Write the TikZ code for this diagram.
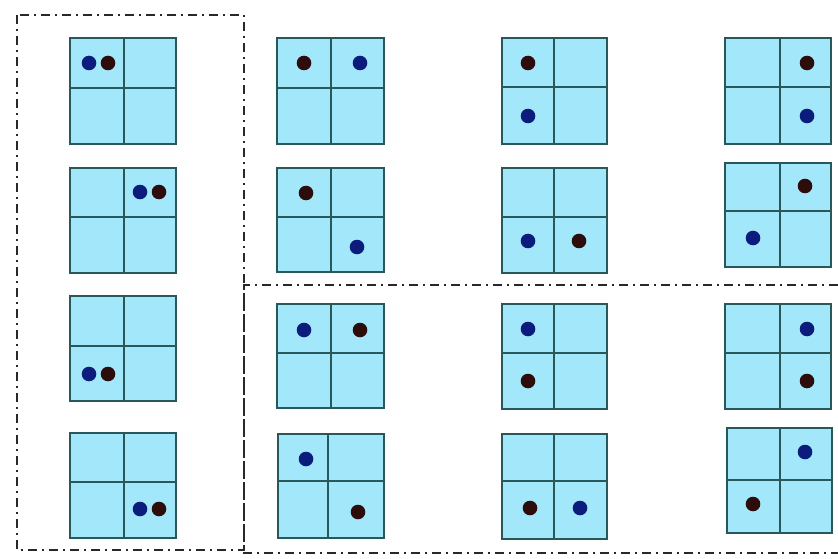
\documentclass[tikz,border=0pt]{standalone}
\definecolor{cellfill}{RGB}{163,232,250}
\definecolor{celledge}{RGB}{40,88,90}
\definecolor{bluedot}{RGB}{12,28,125}
\definecolor{darkdot}{RGB}{45,12,12}
\definecolor{boxline}{RGB}{40,40,40}
\tikzset{
  cellbox/.style={fill=cellfill,draw=celledge,line width=1.8pt},
  cellline/.style={draw=celledge,line width=1.8pt},
  bdot/.style={fill=bluedot},
  ddot/.style={fill=darkdot},
  groupbox/.style={draw=boxline,line width=2.6pt,dash pattern=on 9pt off 5pt on 2pt off 5pt}
}
\newcommand{\quadcell}[6]{%
  \draw[cellbox] (#1,#3) rectangle (#2,#4);
  \draw[cellline] (#5,#3) -- (#5,#4);
  \draw[cellline] (#1,#6) -- (#2,#6);
}
\begin{document}
\begin{tikzpicture}[x=1pt,y=-1pt]
\useasboundingbox (0,0) rectangle (838,559);
% group boxes
\draw[groupbox] (17,15) rectangle (244,550);
\draw[groupbox] (838,285) -- (244,285) -- (244,553) -- (838,553);
% column 1
\quadcell{70}{176}{38}{144}{124}{88}
\fill[bdot] (89,63) circle (7.3); \fill[ddot] (108,63) circle (7.3);
\quadcell{70}{176}{168}{273}{124}{217}
\fill[bdot] (140,192) circle (7.3); \fill[ddot] (159,192) circle (7.3);
\quadcell{70}{176}{296}{401}{124}{346}
\fill[bdot] (89,374) circle (7.3); \fill[ddot] (108,374) circle (7.3);
\quadcell{70}{176}{433}{538}{124}{482}
\fill[bdot] (140,509) circle (7.3); \fill[ddot] (159,509) circle (7.3);
% column 2
\quadcell{277}{384}{38}{144}{331}{88}
\fill[ddot] (304,63) circle (7.3); \fill[bdot] (360,63) circle (7.3);
\quadcell{277}{384}{168}{272}{331}{217}
\fill[ddot] (306,193) circle (7.3); \fill[bdot] (357,247) circle (7.3);
\quadcell{277}{384}{304}{408}{331}{353}
\fill[bdot] (304,330) circle (7.3); \fill[ddot] (360,330) circle (7.3);
\quadcell{278}{384}{434}{538}{328}{481}
\fill[bdot] (306,459) circle (7.3); \fill[ddot] (358,512) circle (7.3);
% column 3
\quadcell{502}{607}{38}{144}{554}{87}
\fill[ddot] (528,63) circle (7.3); \fill[bdot] (528,116) circle (7.3);
\quadcell{502}{607}{168}{273}{554}{217}
\fill[bdot] (528,241) circle (7.3); \fill[ddot] (579,241) circle (7.3);
\quadcell{502}{607}{304}{409}{554}{353}
\fill[bdot] (528,329) circle (7.3); \fill[ddot] (528,381) circle (7.3);
\quadcell{502}{607}{434}{539}{554}{481}
\fill[ddot] (530,508) circle (7.3); \fill[bdot] (580,508) circle (7.3);
% column 4
\quadcell{725}{831}{38}{144}{780}{87}
\fill[ddot] (807,63) circle (7.3); \fill[bdot] (807,116) circle (7.3);
\quadcell{725}{831}{163}{267}{780}{211}
\fill[ddot] (805,186) circle (7.3); \fill[bdot] (753,238) circle (7.3);
\quadcell{725}{831}{304}{409}{780}{353}
\fill[bdot] (807,329) circle (7.3); \fill[ddot] (807,381) circle (7.3);
\quadcell{727}{832}{428}{533}{780}{480}
\fill[bdot] (805,452) circle (7.3); \fill[ddot] (753,504) circle (7.3);
\end{tikzpicture}
\end{document}
